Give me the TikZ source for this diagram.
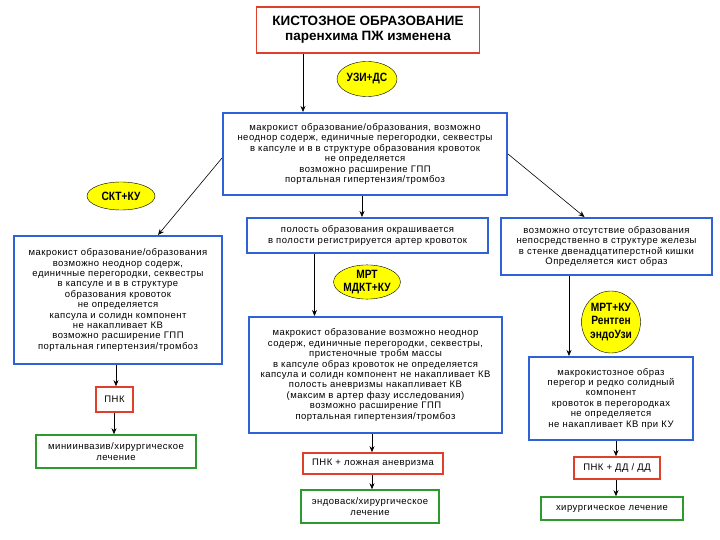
\documentclass[tikz,border=0pt]{standalone}
\usepackage{fontspec}
\setmainfont{Liberation Sans}
\newfontfamily\boxfont[LetterSpace=5]{Liberation Sans}
\newfontfamily\examfont[FakeStretch=0.85]{Liberation Sans Bold}
\usetikzlibrary{positioning, arrows.meta, shapes.geometric}
\definecolor{boxblue}{HTML}{2F62D6}
\definecolor{boxred}{HTML}{E0402A}
\definecolor{boxgreen}{HTML}{2E9A2E}
\definecolor{examyellow}{HTML}{FFFF00}
\tikzset{
  txt/.style={font=\boxfont\fontsize{9.5}{10.4}\selectfont, align=center, inner sep=0pt},
  bluebox/.style={txt, draw=boxblue, line width=2pt},
  redbox/.style={txt, draw=boxred, line width=1.6pt},
  greenbox/.style={txt, draw=boxgreen, line width=1.6pt},
  exam/.style={ellipse, draw=black, fill=examyellow, inner sep=0pt, align=center,
    font=\examfont\fontsize{12}{13.5}\selectfont},
  arr/.style={-{Stealth[length=6pt, width=5pt]}, black, line width=0.6pt}
}
\begin{document}
\begin{tikzpicture}[x=1pt, y=-1pt]
        \useasboundingbox (0,0) rectangle (720,540);
        % top
        \node[redbox, minimum width=223, minimum height=46, font=\fontsize{13.5}{15}\selectfont\bfseries]
          (title) at (368,30) {КИСТОЗНОЕ ОБРАЗОВАНИЕ\\паренхима ПЖ изменена};
        \node[exam, minimum width=60, minimum height=35] (uzi) at (367,79) {УЗИ+ДС};
        \node[bluebox, minimum width=284, minimum height=82] (main) at (365,154)
          {макрокист образование/образования, возможно\\неоднор содерж, единичные перегородки, секвестры\\в капсуле и в в структуре образования кровоток\\не определяется\\возможно расширение ГПП\\портальная гипертензия/тромбоз};
        % left branch
        \node[exam, minimum width=68, minimum height=28] (skt) at (121,196) {СКТ+КУ};
        \node[bluebox, minimum width=208, minimum height=128] (leftbox) at (118,300)
          {макрокист образование/образования\\возможно неоднор содерж,\\единичные перегородки, секвестры\\в капсуле и в в структуре\\образования кровоток\\не определяется\\капсула и солидн компонент\\не накапливает КВ\\возможно расширение ГПП\\портальная гипертензия/тромбоз};
        \node[redbox, minimum width=37, minimum height=25] (leftred) at (114.5,399.5) {ПНК};
        \node[greenbox, minimum width=160, minimum height=33] (leftgreen) at (116,451.5)
          {миниинвазив/хирургическое\\лечение};
        % middle branch
        \node[bluebox, minimum width=241, minimum height=35] (midtop) at (367.5,235.5)
          {полость образования окрашивается\\в полости регистрируется артер кровоток};
        \node[exam, minimum width=61, minimum height=30] (mrt) at (367,282) {МРТ\\МДКТ+КУ};
        \node[bluebox, minimum width=253, minimum height=116] (midlow) at (375.5,375)
          {макрокист образование возможно неоднор\\содерж, единичные перегородки, секвестры,\\пристеночные тробм массы\\в капсуле образ кровоток не определяется\\капсула и солидн компонент не накапливает КВ\\полость аневризмы накапливает КВ\\(максим в артер фазу исследования)\\возможно расширение ГПП\\портальная гипертензия/тромбоз};
        \node[redbox, minimum width=140, minimum height=21] (midred) at (373,463.5) {ПНК + ложная аневризма};
        \node[greenbox, minimum width=138, minimum height=33] (midgreen) at (370,506.5)
          {эндоваск/хирургическое\\лечение};
        % right branch
        \node[bluebox, minimum width=211, minimum height=57] (rightbox) at (606.5,246.5)
          {возможно отсутствие образования\\непосредственно в структуре железы\\в стенке двенадцатиперстной кишки\\Определяется кист образ};
        \node[exam, minimum width=58, minimum height=62] (mrtku) at (611,322) {МРТ+КУ\\Рентген\\эндоУзи};
        \node[bluebox, minimum width=164, minimum height=83] (rightlow) at (611,398.5)
          {макрокистозное образ\\перегор и редко солидный\\компонент\\кровоток в перегородках\\не определяется\\не накапливает КВ при КУ};
        \node[redbox, minimum width=86, minimum height=22] (rightred) at (617,468) {ПНК + ДД / ДД};
        \node[greenbox, minimum width=142, minimum height=23] (rightgreen) at (612,508.5) {хирургическое лечение};
        % connectors
        \draw[arr] ([xshift=-65]title.south) -- ([xshift=-65]title.south |- main.north);
        \draw[arr] ([yshift=-4]main.west) -- ([xshift=40]leftbox.north);
        \draw[arr] ([xshift=-3]main.south) -- ([xshift=-3]main.south |- midtop.north);
        \draw[arr] (main.east) -- ([xshift=-22]rightbox.north);
        \draw[arr] ([xshift=-2]leftbox.south) -- ([xshift=-2]leftbox.south |- leftred.north);
        \draw[arr] ([xshift=-0.5]leftred.south) -- ([xshift=-0.5]leftred.south |- leftgreen.north);
        \draw[arr] ([xshift=-53]midtop.south) -- ([xshift=-53]midtop.south |- midlow.north);
        \draw[arr] ([xshift=-3.5]midlow.south) -- ([xshift=-3.5]midlow.south |- midred.north);
        \draw[arr] ([xshift=-1]midred.south) -- ([xshift=-1]midred.south |- midgreen.north);
        \draw[arr] ([xshift=-37.5]rightbox.south) -- ([xshift=-37.5]rightbox.south |- rightlow.north);
        \draw[arr] ([xshift=5]rightlow.south) -- ([xshift=5]rightlow.south |- rightred.north);
        \draw[arr] ([xshift=-1]rightred.south) -- ([xshift=-1]rightred.south |- rightgreen.north);
\end{tikzpicture}
\end{document}
